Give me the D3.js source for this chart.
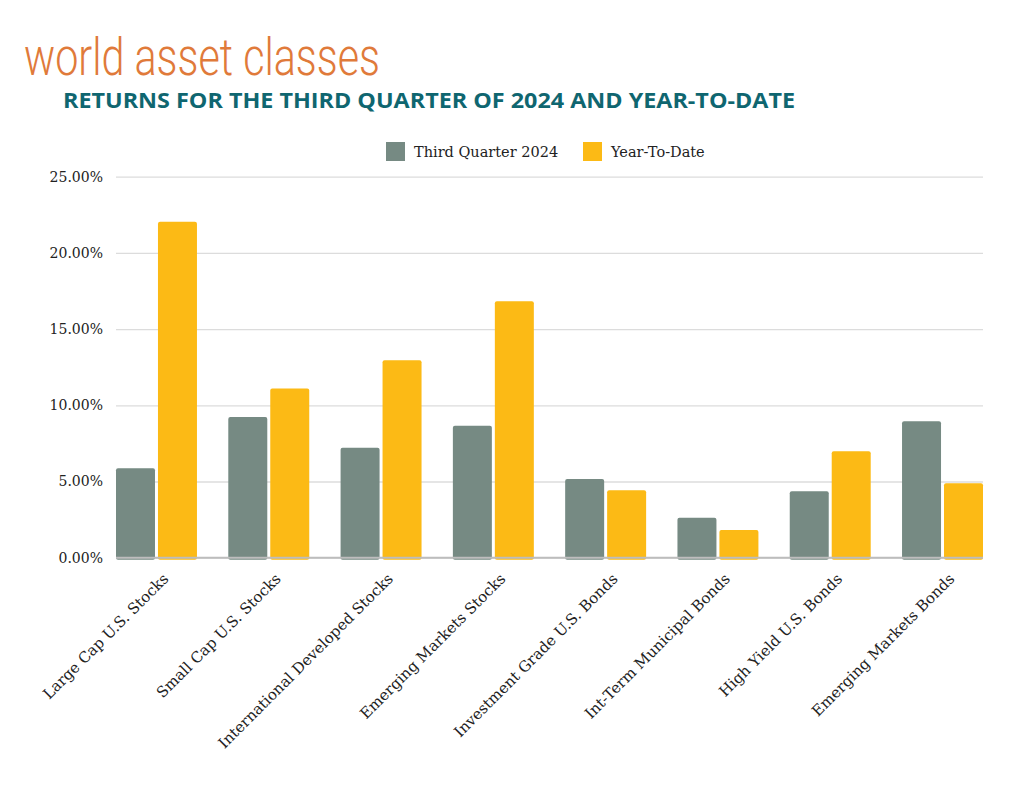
<html>
<head>
<script src="https://cdnjs.cloudflare.com/ajax/libs/d3/7.8.5/d3.min.js"></script>
<style>
  body { margin: 0; background: white; }
</style>
</head>
<body></body>
<script>
var categories = ["Large Cap U.S. Stocks", "Small Cap U.S. Stocks", "International Developed Stocks",
  "Emerging Markets Stocks", "Investment Grade U.S. Bonds", "Int-Term Municipal Bonds",
  "High Yield U.S. Bonds", "Emerging Markets Bonds"];
var seriesNames = ["Third Quarter 2024", "Year-To-Date"];
var quarterValues = [5.87, 9.23, 7.22, 8.66, 5.16, 2.62, 4.36, 8.95];
var ytdValues = [22.05, 11.11, 12.95, 16.82, 4.42, 1.82, 6.98, 4.88];
var yTicks = [0, 5, 10, 15, 20, 25];
var colors = ["#768a83", "#fcba15"];

var screen = {width: 1024, height: 791};
var plot = {left: 116, right: 983, top: 176.7, bottom: 557.7};
var serif = "'DejaVu Serif', serif";

var svg = d3.select("body").append("svg")
  .attr("width", screen.width)
  .attr("height", screen.height)
  .style("background-color", "white");

// titles
svg.append("text")
  .attr("x", 24).attr("y", 75)
  .attr("textLength", 356).attr("lengthAdjust", "spacingAndGlyphs")
  .style("font-family", "Roboto").style("font-weight", 300).style("font-size", "51px")
  .style("fill", "#e07a3a")
  .text("world asset classes");

svg.append("text")
  .attr("x", 63).attr("y", 107.5)
  .attr("textLength", 732).attr("lengthAdjust", "spacingAndGlyphs")
  .style("font-family", "'Open Sans'").style("font-weight", 700).style("font-size", "21px")
  .style("fill", "#0f6670")
  .text("RETURNS FOR THE THIRD QUARTER OF 2024 AND YEAR-TO-DATE");

// scales
var y = d3.scaleLinear().domain([0, 25]).range([plot.bottom, plot.top]);
var x0 = d3.scaleBand().domain(categories).range([plot.left, plot.right])
  .paddingInner(0.279).paddingOuter(0);
var x1 = d3.scaleBand().domain(seriesNames).range([0, x0.bandwidth()]).paddingInner(0.071);

// grid + y labels
var yAxis = d3.axisLeft(y).tickValues(yTicks)
  .tickSize(-(plot.right - plot.left))
  .tickPadding(13)
  .tickFormat(function(d) { return d3.format(".2f")(d) + "%"; });

var gy = svg.append("g").attr("transform", "translate(" + plot.left + ",0)").call(yAxis);
gy.select(".domain").remove();
gy.selectAll(".tick line").attr("stroke", "#dcdcdc").attr("stroke-width", 1.3);
gy.selectAll(".tick text")
  .style("font-family", serif).style("font-size", "14px").style("fill", "#222");

// bars
var rows = categories.map(function(c, i) {
  return {cat: c, vals: [quarterValues[i], ytdValues[i]]};
});

var groups = svg.selectAll("g.group").data(rows).enter().append("g")
  .attr("class", "group")
  .attr("transform", function(d) { return "translate(" + x0(d.cat) + ",0)"; });

groups.selectAll("rect").data(function(d) {
    return d.vals.map(function(v, j) { return {name: seriesNames[j], value: v, j: j}; });
  })
  .enter().append("rect")
  .attr("x", function(d) { return x1(d.name); })
  .attr("y", function(d) { return y(d.value); })
  .attr("width", x1.bandwidth())
  .attr("height", function(d) { return y(0) - y(d.value) + 2; })
  .attr("rx", 2)
  .attr("fill", function(d) { return colors[d.j]; });

// zero axis line
svg.append("line")
  .attr("x1", plot.left).attr("x2", plot.right)
  .attr("y1", y(0)).attr("y2", y(0))
  .attr("stroke", "#bdbdbd").attr("stroke-width", 2);

// x labels
var gx = svg.append("g").attr("transform", "translate(0," + plot.bottom + ")")
  .call(d3.axisBottom(x0).tickSize(0).tickFormat(function(d) { return d; }));
gx.select(".domain").remove();
gx.selectAll(".tick text")
  .attr("text-anchor", "end")
  .attr("x", 0).attr("y", 0).attr("dy", 0)
  .attr("transform", "translate(13,22) rotate(-45)")
  .style("font-family", serif).style("font-size", "15px").style("fill", "#222");

// legend
var legendItems = [{name: seriesNames[0], x: 386}, {name: seriesNames[1], x: 583}];
var lg = svg.selectAll("g.legend").data(legendItems).enter().append("g")
  .attr("class", "legend")
  .attr("transform", function(d) { return "translate(" + d.x + ",142)"; });
lg.append("rect").attr("width", 19).attr("height", 19)
  .attr("fill", function(d, i) { return colors[i]; });
lg.append("text").attr("x", 28).attr("y", 15)
  .style("font-family", serif).style("font-size", "14.5px").style("fill", "#222")
  .text(function(d) { return d.name; });
</script>
</html>
